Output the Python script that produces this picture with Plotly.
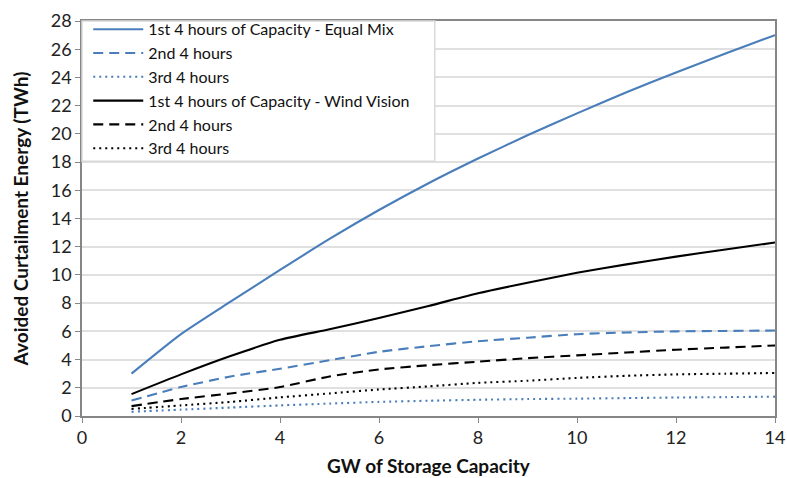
import plotly.graph_objects as go

gw = [1, 2, 3, 4, 5, 6, 7, 8, 9, 10, 11, 12, 13, 14]

em_1st = [3.0, 5.8, 8.1, 10.35, 12.55, 14.6, 16.5, 18.25, 19.9, 21.45, 22.95, 24.35, 25.7, 27.0]
em_2nd = [1.1, 2.05, 2.8, 3.35, 3.95, 4.55, 4.95, 5.3, 5.55, 5.8, 5.92, 6.0, 6.03, 6.06]
em_3rd = [0.3, 0.45, 0.6, 0.75, 0.88, 1.0, 1.08, 1.15, 1.2, 1.23, 1.27, 1.31, 1.34, 1.37]
wv_1st = [1.55, 2.95, 4.25, 5.4, 6.15, 6.95, 7.8, 8.7, 9.45, 10.15, 10.75, 11.3, 11.8, 12.3]
wv_2nd = [0.7, 1.2, 1.6, 2.05, 2.8, 3.3, 3.6, 3.85, 4.1, 4.3, 4.5, 4.7, 4.85, 5.0]
wv_3rd = [0.5, 0.75, 1.0, 1.32, 1.6, 1.88, 2.1, 2.35, 2.5, 2.7, 2.85, 2.95, 3.0, 3.05]

names = ["1st 4 hours of Capacity - Equal Mix", "2nd 4 hours", "3rd 4 hours",
         "1st 4 hours of Capacity - Wind Vision", "2nd 4 hours", "3rd 4 hours"]
x_ticks = [0, 2, 4, 6, 8, 10, 12, 14]
y_ticks = list(range(0, 29, 2))

BLUE = "#4a7ebb"
BLACK = "#000000"
series = [
    (em_1st, BLUE, "solid"),
    (em_2nd, BLUE, "10px,6px"),
    (em_3rd, BLUE, "2px,4px"),
    (wv_1st, BLACK, "solid"),
    (wv_2nd, BLACK, "10px,6px"),
    (wv_3rd, BLACK, "2px,4px"),
]

fig = go.Figure()
for (vals, col, dash), nm in zip(series, names):
    fig.add_trace(go.Scatter(x=gw, y=vals, mode="lines", name=nm,
                             line=dict(color=col, width=2.1, dash=dash, shape="spline", smoothing=0.6)))

FONT = "Lato, Open Sans, sans-serif"
axcol = "#868686"
grid = "#e0e0e0"

fig.add_shape(type="rect", xref="paper", yref="paper", x0=0, x1=0.509, y0=0.645, y1=1,
              fillcolor="white", line=dict(color="#d9d9d9", width=1.5), layer="above")

fig.update_layout(
    width=787, height=478,
    margin=dict(l=82, r=12, t=19, b=62),
    paper_bgcolor="white", plot_bgcolor="white",
    font=dict(family=FONT, size=16, color="#222222"),
    showlegend=True,
    legend=dict(x=0.009, y=1.022, xanchor="left", yanchor="top", bgcolor="rgba(0,0,0,0)",
                borderwidth=0, font=dict(size=16, color="#111111"), tracegroupgap=0,
                itemwidth=50),
    xaxis=dict(range=[0, 14], tickvals=x_ticks, showgrid=False, automargin=False,
               showline=True, linecolor=axcol, linewidth=1.5, mirror=True,
               ticks="outside", ticklen=5, tickcolor=axcol, zeroline=False,
               tickfont=dict(size=18, color="#222222"),
               title=dict(text="<b>GW of Storage Capacity</b>", font=dict(size=19, color="#111111"), standoff=12)),
    yaxis=dict(range=[0, 28], tickvals=y_ticks, showgrid=True, gridcolor=grid, gridwidth=1.5,
               automargin=False,
               showline=True, linecolor=axcol, linewidth=1.5, mirror=True,
               ticks="outside", ticklen=5, tickcolor=axcol, zeroline=False,
               tickfont=dict(size=18, color="#222222"),
               title=dict(text="<b>Avoided Curtailment Energy (TWh)</b>", font=dict(size=19, color="#111111"), standoff=17)),
)

fig.write_html("out.html", config={"displayModeBar": False},
               post_script="document.body.style.margin='0';document.body.style.overflow='hidden';")
